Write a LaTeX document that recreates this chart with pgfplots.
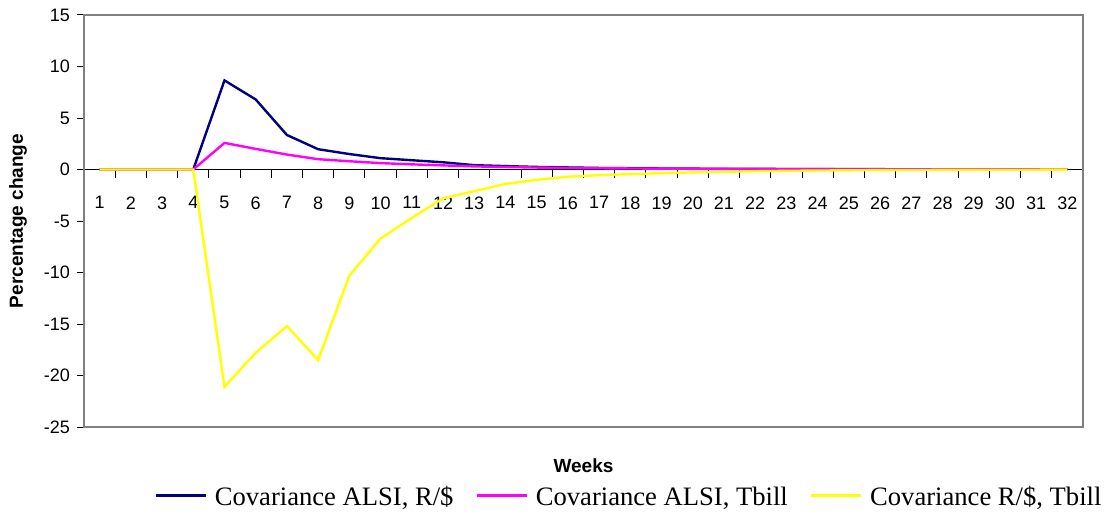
\documentclass[border=0pt]{standalone}
\usepackage{fontspec}
\setmainfont{Liberation Sans}
\newfontfamily\legendfont{Liberation Serif}
\usepackage{pgfplots}
\usepackage{pgfplotstable}
\pgfplotsset{compat=1.18}

\definecolor{covA}{RGB}{0,0,128}
\definecolor{covB}{RGB}{255,0,255}
\definecolor{covC}{RGB}{255,255,0}
\definecolor{framegray}{RGB}{128,128,128}

% week, ALSI-R/$, ALSI-Tbill, R/$-Tbill
\pgfplotstableread{
week  a      b      c
1     0      0      0
2     0      0      0
3     0      0      0
4     0      0      0
5     8.65   2.58   -21.1
6     6.8    2.0    -17.8
7     3.35   1.45   -15.2
8     1.97   1.0    -18.5
9     1.5    0.8    -10.3
10    1.1    0.62   -6.7
11    0.9    0.5    -4.7
12    0.7    0.4    -2.8
13    0.42   0.3    -2.1
14    0.33   0.24   -1.4
15    0.25   0.19   -1.0
16    0.2    0.15   -0.7
17    0.15   0.12   -0.55
18    0.12   0.1    -0.45
19    0.1    0.08   -0.35
20    0.08   0.065  -0.28
21    0.07   0.055  -0.22
22    0.06   0.045  -0.17
23    0.05   0.038  -0.13
24    0.04   0.032  -0.1
25    0.035  0.027  -0.08
26    0.03   0.022  -0.06
27    0.025  0.018  -0.05
28    0.02   0.015  -0.04
29    0.018  0.012  -0.03
30    0.015  0.01   -0.025
31    0.012  0.008  -0.02
32    0.01   0.006  -0.015
}\covtable

\begin{document}
\begin{tikzpicture}
\begin{axis}[
  scale only axis,
  width=499.5pt, height=206pt,
  xmin=0.5, xmax=32.5, ymin=-25, ymax=15,
  axis x line=middle, axis y line=left,
  x axis line style={-, black, line width=0.5pt},
  y axis line style={-, framegray, line width=1pt},
  xtick={1,...,32},
  minor xtick={1.5,2.5,...,31.5},
  major x tick style={draw=none},
  minor x tick style={black, line width=0.5pt},
  minor tick length=4pt,
  ytick={-25,-20,...,15},
  y tick style={black, line width=0.5pt},
  major tick length=3.5pt,
  tick align=outside,
  /pgf/number format/assume math mode=true,
  ticklabel style={font=\fontsize{9}{10}\selectfont},
  xticklabel style={yshift=-6.5pt},
  xlabel={Weeks},
  ylabel={Percentage change},
  xlabel style={at={(axis description cs:0.5,0)}, anchor=center, yshift=-19.5pt,
    font=\bfseries\fontsize{9.5}{11}\selectfont},
  ylabel style={at={(axis description cs:-0.066,0.5)}, anchor=center, rotate=0,
    font=\bfseries\fontsize{9.5}{11}\selectfont},
  legend columns=3,
  legend style={draw=none, fill=none,
    at={(axis description cs:0.5465,0)}, anchor=center, yshift=-37pt,
    font=\legendfont\fontsize{13.3}{14}\selectfont,
    nodes={text height=0.72em, text depth=0.25em},
    /tikz/every even column/.append style={column sep=9pt},
    /tikz/every odd column/.append style={column sep=2pt}},
  legend image code/.code={\draw[#1] (0pt,2.8pt) -- (25pt,2.8pt);},
  clip=false,
]
\draw[framegray, line width=1pt] (rel axis cs:0,0) rectangle (rel axis cs:1,1);
\addplot[covA, line width=1.2pt] table[x=week, y=a] {\covtable};
\addlegendentry{Covariance ALSI, R/\$}
\addplot[covB, line width=1.2pt] table[x=week, y=b] {\covtable};
\addlegendentry{Covariance ALSI, Tbill}
\addplot[covC, line width=1.2pt] table[x=week, y=c] {\covtable};
\addlegendentry{Covariance R/\$, Tbill}
\end{axis}
\pgfresetboundingbox
\path ([shift={(-42pt,-44pt)}]current axis.south west)
  rectangle ([shift={(12pt,7.5pt)}]current axis.north east);
\end{tikzpicture}
\end{document}
